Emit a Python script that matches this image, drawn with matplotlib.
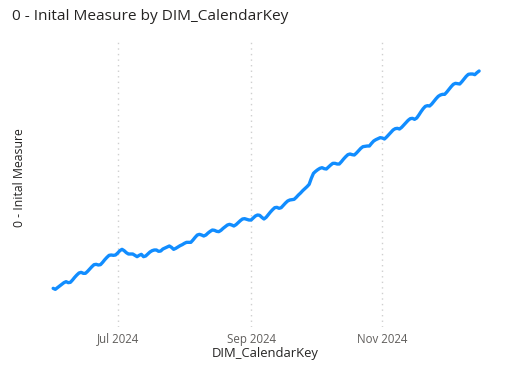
import matplotlib
matplotlib.use("Agg")
import matplotlib.pyplot as plt
import matplotlib.dates as mdates
import numpy as np

# ---- data ----
start_date = "2024-06-01"
measure_values = [
    25, 22, 27, 32, 37, 42, 45, 42, 43, 50, 58, 65, 71, 73, 70, 70, 76, 83, 90, 96,
    97, 95, 96, 103, 111, 118, 124, 125, 124, 125, 131, 138, 142, 138, 132, 128, 128, 128, 124, 120,
    124, 127, 120, 122, 128, 134, 138, 140, 140, 136, 137, 143, 146, 149, 152, 148, 142, 145, 149, 153,
    156, 160, 163, 163, 163, 170, 178, 185, 187, 185, 182, 185, 191, 196, 200, 199, 196, 195, 199, 205,
    210, 215, 217, 215, 212, 216, 222, 228, 233, 234, 232, 230, 230, 236, 242, 245, 244, 238, 233, 238,
    246, 254, 261, 267, 268, 265, 267, 274, 281, 287, 290, 291, 292, 298, 305, 311, 318, 324, 330, 337,
    355, 370, 376, 381, 385, 387, 384, 383, 389, 395, 400, 400, 398, 398, 405, 413, 420, 426, 428, 426,
    425, 431, 438, 445, 450, 451, 452, 452, 460, 467, 471, 474, 477, 476, 473, 479, 486, 493, 500, 504,
    505, 503, 508, 515, 522, 529, 534, 535, 532, 536, 545, 555, 564, 571, 573, 572, 578, 586, 594, 601,
    605, 607, 607, 614, 622, 630, 637, 640, 639, 638, 645, 653, 661, 667, 668, 668, 666, 672, 677,
]
tick_dates = ["2024-07-01", "2024-09-01", "2024-11-01"]
tick_labels = ["Jul 2024", "Sep 2024", "Nov 2024"]
title = "0 - Inital Measure by DIM_CalendarKey"
x_title = "DIM_CalendarKey"
y_title = "0 - Inital Measure"

dates = np.array([np.datetime64(start_date) + np.timedelta64(i, "D") for i in range(len(measure_values))])

W, H = 510, 385
fig = plt.figure(figsize=(W / 100, H / 100), dpi=100)
ax_left, ax_right, ax_top, ax_bottom = 45, 490, 39, 327
ax = fig.add_axes([ax_left / W, 1 - ax_bottom / H, (ax_right - ax_left) / W, (ax_bottom - ax_top) / H])

ax.plot(dates, measure_values, color="#118DFF", lw=2.4, solid_capstyle="round", solid_joinstyle="round")

jul1 = mdates.date2num(np.datetime64("2024-07-01"))
nov1 = mdates.date2num(np.datetime64("2024-11-01"))
pxday = (382.3 - 117.7) / (nov1 - jul1)
ax.set_xlim(jul1 - (117.7 - ax_left) / pxday, nov1 + (ax_right - 382.3) / pxday)
ax.set_ylim(-91, 773)

ax.set_xticks([mdates.date2num(np.datetime64(d)) for d in tick_dates])
ax.set_xticklabels(tick_labels, fontsize=8.3, color="#605E5C", family="Open Sans")
ax.tick_params(axis="x", length=0, pad=4)
ax.set_yticks([])
ax.grid(axis="x", color="#CFCFCF", linestyle=(0, (1, 3)), lw=1)
for s in ax.spines.values():
    s.set_visible(False)

fig.text(12 / W, 1 - 16 / H, title, fontsize=11.1, color="#252423", family="Open Sans", va="center", ha="left")
fig.text(265.5 / W, 1 - 354 / H, x_title, fontsize=9.35, color="#252423", family="Open Sans", va="center", ha="center")
fig.text(20 / W, 1 - 177.5 / H, y_title, fontsize=8.8, color="#252423", family="Open Sans", va="center", ha="center", rotation=90)

fig.savefig("out.png", dpi=100)
